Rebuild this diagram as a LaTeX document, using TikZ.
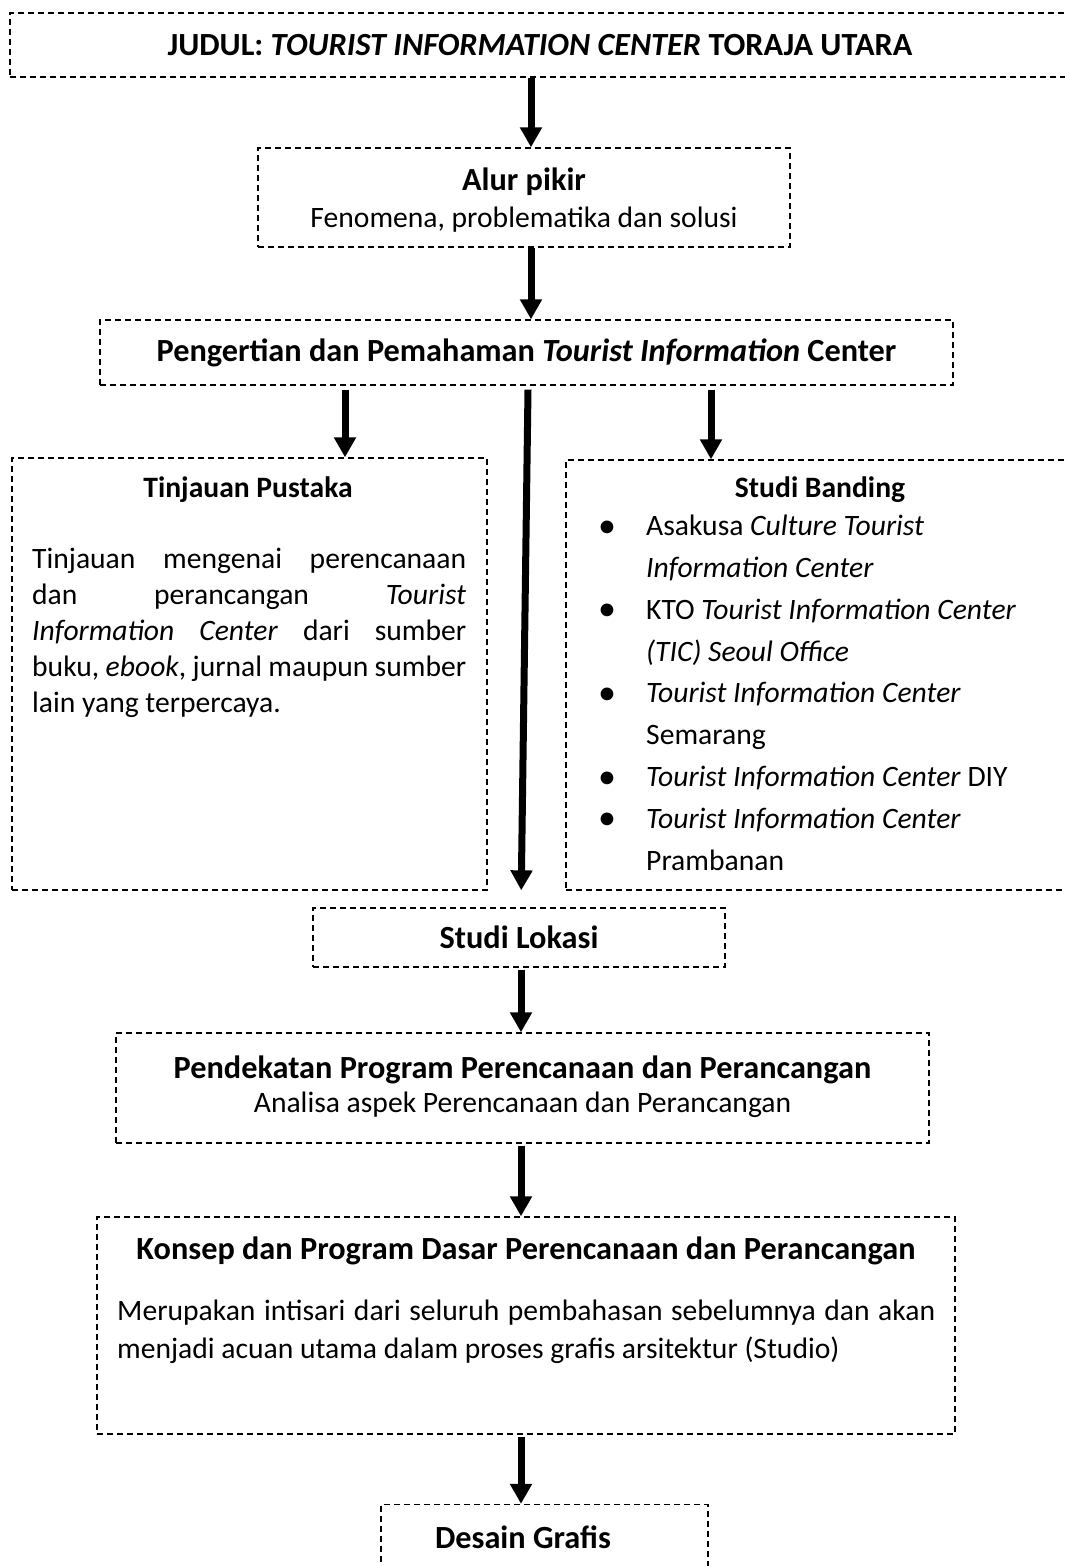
\documentclass[tikz,border=0pt]{standalone}
\usepackage{fontspec}
\setmainfont{Carlito}
\usepackage{tikz}
\usetikzlibrary{arrows.meta}
\usetikzlibrary{positioning}

\newcommand{\hdfont}{\fontsize{32.3}{36}\selectfont\bfseries}
\newcommand{\bdfont}{\fontsize{29.6}{34}\selectfont}
\newcommand{\butir}{\makebox[48pt][l]{\raisebox{-1.5pt}{\fontsize{36}{36}\selectfont\textbullet}}}

\tikzset{
	dashbox/.style={draw=black, dash pattern=on 6pt off 4pt, line width=1.3pt, inner sep=0pt, align=center},
	txt/.style={inner sep=0pt, font=\bdfont}
}

\begin{document}
\begin{tikzpicture}[x=1pt, y=-1pt]
	\useasboundingbox (0,0) rectangle (1065,1566);
	\clip (0,0) rectangle (1065,1566);

	\begin{scope}[every node/.style={dashbox, font=\bdfont}]
		\node[minimum width=1060pt, minimum height=64pt] (judul) at (540,45)
			{{\hdfont JUDUL: \textit{TOURIST INFORMATION CENTER} TORAJA UTARA}};
		\node[minimum width=532pt, minimum height=99pt] (alur) at (524,197.5) {};
		\node[minimum width=853pt, minimum height=65pt] (pengertian) at (526.5,352.5)
			{{\hdfont Pengertian dan Pemahaman \textit{Tourist Information} Center}};
		\node[minimum width=475pt, minimum height=432pt] (tinjauan) at (249.5,674) {};
		\node[minimum width=509pt, minimum height=430pt] (banding) at (820.5,675) {};
		\node[minimum width=412pt, minimum height=59pt] (lokasi) at (519,937.5)
			{{\hdfont Studi Lokasi}};
		\node[minimum width=813pt, minimum height=110pt] (pendekatan) at (522.5,1088) {};
		\node[minimum width=858pt, minimum height=217pt] (konsep) at (526,1325.5) {};
		\node[minimum width=327pt, minimum height=95pt] (desain) at (544.5,1552) {};
	\end{scope}

	% teks di dalam kotak
	\begin{scope}[every node/.style={txt}]
		\node[anchor=base] (alurJudul) at (524,190) {\hdfont Alur pikir};
		\node[anchor=base] (alurIsi) at (524,227) {Fenomena, problematika dan solusi};
		\node[anchor=base] (tinjauanJudul) at (248,497) {\textbf{Tinjauan Pustaka}};
		\node[anchor=north west, text width=434pt, align=justify,
		      font=\fontsize{29.6}{36}\selectfont] (tinjauanIsi) at (32,548)
			{\hyphenpenalty=10000 Tinjauan mengenai perencanaan\linebreak
			 dan perancangan \textit{Tourist}\linebreak
			 \textit{Information Center} dari sumber\linebreak
			 buku, \textit{ebook}, jurnal maupun sumber\linebreak
			 lain yang terpercaya.};
		\node[anchor=base] (bandingJudul) at (820,497) {\textbf{Studi Banding}};
		\node[anchor=north west, align=left, font=\fontsize{29.6}{41.8}\selectfont] (bandingIsi) at (598,515)
			{\butir Asakusa \textit{Culture Tourist}\\
			 \hspace*{48pt}\textit{Information Center}\\
			 \butir KTO \textit{Tourist Information Center}\\
			 \hspace*{48pt}\textit{(TIC) Seoul Office}\\
			 \butir\textit{Tourist Information Center}\\
			 \hspace*{48pt}Semarang\\
			 \butir\textit{Tourist Information Center} DIY\\
			 \butir\textit{Tourist Information Center}\\
			 \hspace*{48pt}Prambanan};
		\node[anchor=base] (pendekatanJudul) at (522.5,1078) {\hdfont Pendekatan Program Perencanaan dan Perancangan};
		\node[anchor=base] (pendekatanIsi) at (522.5,1112) {Analisa aspek Perencanaan dan Perancangan};
		\node[anchor=base] (konsepJudul) at (526,1259) {\hdfont Konsep dan Program Dasar Perencanaan dan Perancangan};
		\node[anchor=north west, text width=818pt, align=justify,
		      font=\fontsize{29.6}{38}\selectfont] (konsepIsi) at (117,1300)
			{\hyphenpenalty=10000 Merupakan intisari dari seluruh pembahasan sebelumnya dan akan\linebreak
			 menjadi acuan utama dalam proses grafis arsitektur (Studio)};
		\node[anchor=base] (desainJudul) at (523,1548) {\hdfont Desain Grafis};
	\end{scope}

	\begin{scope}[>={Triangle[width=21pt,length=20pt]},
	              every edge/.style={draw=black, line width=7pt, ->}]
		\path ([xshift=7pt]alur.north |- judul.south) edge ([xshift=7pt]alur.north);
		\path ([xshift=7pt]alur.south) edge ([xshift=7pt]alur.south |- pengertian.north);
		\path ([xshift=95.5pt, yshift=-4pt]tinjauan.north |- pengertian.south) edge ([xshift=95.5pt]tinjauan.north);
		\path ([xshift=-109.5pt, yshift=-4pt]banding.north |- pengertian.south) edge ([xshift=-109.5pt]banding.north);
		\path ([xshift=1.5pt, yshift=-4pt]pengertian.south) edge[shorten >=17pt] ([xshift=2pt]lokasi.north);
		\path ([xshift=2pt, yshift=-2pt]lokasi.south) edge ([xshift=2pt]lokasi.south |- pendekatan.north);
		\path ([xshift=-1.5pt, yshift=-2pt]pendekatan.south) edge ([xshift=-1.5pt]pendekatan.south |- konsep.north);
		\path ([xshift=-5pt, yshift=-2pt]konsep.south) edge ([xshift=-5pt]konsep.south |- desain.north);
	\end{scope}
\end{tikzpicture}
\end{document}
